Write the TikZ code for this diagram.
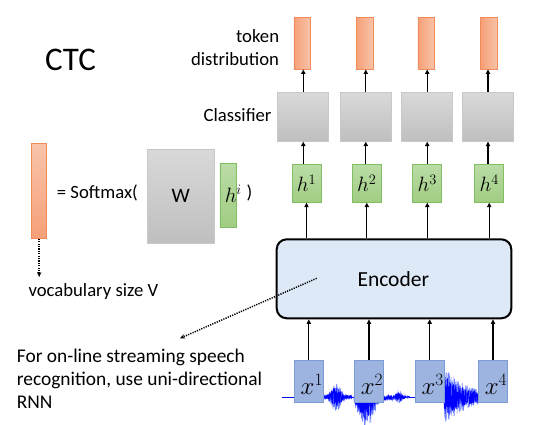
\documentclass[tikz,border=0pt]{standalone}
\usepackage{fontspec}
\setmainfont{Carlito}
\usetikzlibrary{arrows.meta}
\definecolor{orB}{RGB}{240,140,90}
\definecolor{orD}{RGB}{245,160,120}
\definecolor{orL}{RGB}{249,196,170}
\definecolor{grT}{RGB}{217,217,217}
\definecolor{grB}{RGB}{191,191,191}
\definecolor{grE}{RGB}{200,200,200}
\definecolor{gnT}{RGB}{186,220,166}
\definecolor{gnB}{RGB}{160,205,130}
\definecolor{gnE}{RGB}{130,190,100}
\definecolor{xbF}{RGB}{157,179,224}
\definecolor{xbE}{RGB}{125,155,214}
\definecolor{encF}{RGB}{221,233,246}
\definecolor{wave}{RGB}{0,0,255}
\definecolor{waveL}{RGB}{110,130,255}
\tikzset{
  tokbar/.style={draw=orB, line width=0.8, left color=orD, right color=orL, minimum width=16.7, minimum height=52, inner sep=0},
  clsbox/.style={draw=grE, line width=0.8, top color=grT, bottom color=grB, minimum width=51, minimum height=49, inner sep=0},
  hbox/.style={draw=gnE, line width=0.8, top color=gnT, bottom color=gnB, minimum width=29, minimum height=38, inner sep=0, font=\fontsize{22}{22}\selectfont},
  xbox/.style={draw=xbE, line width=0.8, fill=xbF, minimum width=29.5, minimum height=42, inner sep=0},
  xlab/.style={inner sep=0, font=\fontsize{23}{23}\selectfont},
  arr/.style={-{Triangle[length=4.5pt,width=4.2pt]}, line width=1.3},
  dotarr/.style={line width=1.5, dash pattern=on 1.2pt off 1.2pt, -{Stealth[length=5pt,width=4.5pt]}},
  lab/.style={inner sep=0, font=\fontsize{18.7}{22.6}\selectfont},
}
\begin{document}
\begin{tikzpicture}[x=1pt,y=-1pt]
\useasboundingbox (0,0) rectangle (554,424);
\pgfmathsetseed{12}
% ---- left part
\node[lab, anchor=base west, font=\fontsize{33}{33}\selectfont] (ctc) at (45,70) {CTC};
\node[draw=orB, line width=0.8, top color=orL, bottom color=orD, minimum width=15, minimum height=95, inner sep=0] (ybar) at (39.2,190.8) {};
\node[lab, anchor=base west] (soft) at (56.7,198.3) {= Softmax(};
\node[draw=grE, line width=0.8, top color=grT, bottom color=grB, minimum width=66.7, minimum height=94.3, inner sep=0, font=\fontsize{20.5}{20.5}\selectfont] (W) at (180.7,196.2) {W};
\node[draw=gnE, line width=0.8, top color=gnT, bottom color=gnB, minimum width=16.7, minimum height=64, inner sep=0] (hi) at (228.3,195.3) {};
\node[inner sep=0, font=\fontsize{22}{22}\selectfont] (hil) at (233.3,194) {$h^i$};
\node[lab, anchor=base west] (close) at (246.5,198.3) {)};
\coordinate (vend) at (39.2,277);
\draw[dotarr] (ybar.south) -- (vend);
\node[lab, anchor=base west] (voc) at (28.3,296.7) {vocabulary size V};
% ---- labels
\node[lab, anchor=north east, align=right] (tok) at (279.3,29.5) {token\\distribution};
\node[lab, anchor=base east] (clsl) at (271.7,121.7) {Classifier};
% ---- waveform
\draw[wave, line width=0.6] (282,397) -- (478,397);
\foreach \col/\sc in {waveL/1.15, wave/0.8}{
  \draw[\col, line width=0.45] plot[domain=324:352, samples=220] (\x, {397 + \sc*(1+12*exp(-((\x-336)/6)^2))*rand});
  \draw[\col, line width=0.45] plot[domain=354:393, samples=300] (\x, {397 + \sc*(2+19*exp(-((\x-366)/9)^2))*(rand+0.4)});
  \draw[\col, line width=0.45] plot[domain=393:410, samples=120] (\x, {397 + \sc*(0.5+5*exp(-((\x-399)/4)^2))*rand});
  \draw[\col, line width=0.45] plot[domain=444:479, samples=320] (\x, {397 + \sc*(27*exp(-(\x-444)/24))*rand});
}
% ---- encoder
\node[draw=black, line width=2, rounded corners=10, fill=encF, minimum width=234.6, minimum height=79, inner sep=0] (enc) at (394,278.8) {};
\node[inner sep=0, anchor=base, font=\fontsize{21.5}{21.5}\selectfont] (encl) at (393.3,286.7) {Encoder};
\coordinate (dstart) at (316.7,278.3);
\coordinate (dend) at (180,338.3);
\draw[dotarr] (dstart) -- (dend);
\node[inner sep=0, anchor=north west, align=left, font=\fontsize{19.4}{22.6}\selectfont] (note) at (16.7,349.3) {For on-line streaming speech\\recognition, use uni-directional\\RNN};
% ---- columns
\foreach \i/\tx/\cx/\hx/\xx in {1/302.3/303.3/306.5/308.8, 2/364.7/365.8/366.8/369, 3/426.3/427.2/427.3/429.7, 4/489.2/488/489.2/493}{
  \node[tokbar] (t\i) at (\tx,43) {};
  \node[clsbox] (c\i) at (\cx,116.7) {};
  \node[hbox] (h\i) at (\hx,183.2) {$h^{\i}$};
  \node[xbox] (x\i) at (\xx,381.7) {};
  \node[xlab] (xl\i) at (\xx+3,384) {$x^{\i}$};
  \draw[arr] (c\i.north) -- (c\i.north |- t\i.south);
  \draw[arr] (c\i.south |- h\i.north) -- (c\i.south);
  \draw[arr] (h\i.south |- enc.north) -- (h\i.south);
  \draw[arr] (x\i.north) -- (x\i.north |- enc.south);
}
\end{tikzpicture}
\end{document}
